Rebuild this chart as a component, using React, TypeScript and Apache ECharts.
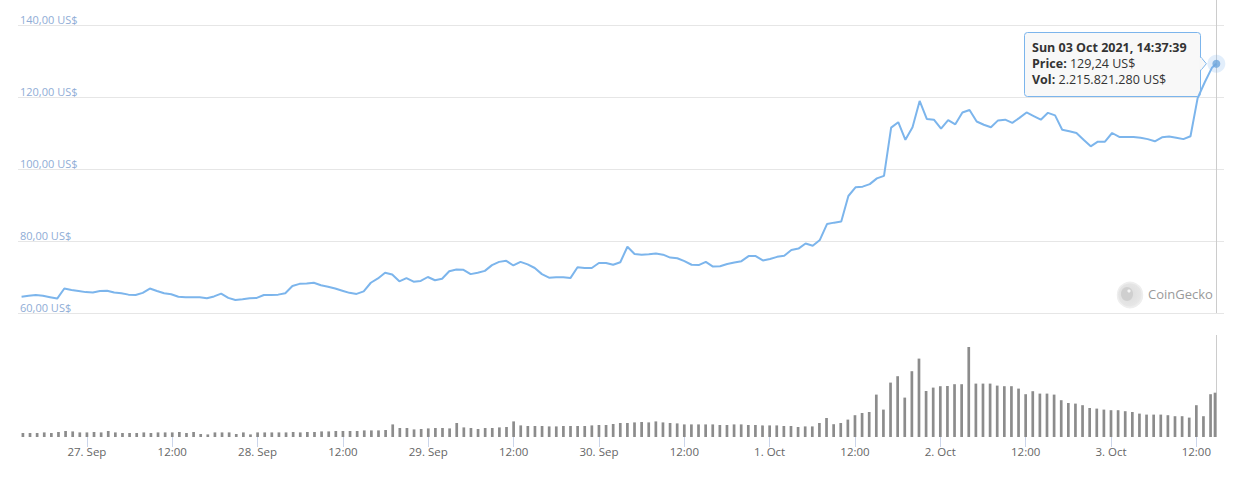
import React, { useEffect, useRef } from 'react';
import * as echarts from 'echarts';

// Hourly samples starting 26 Sep 2021 15:00 (local), the final sample is the live point 3 Oct 2021 14:37:39
const firstSampleTime = new Date(2021, 8, 26, 15, 0, 0).getTime();
const liveSampleTime = new Date(2021, 9, 3, 14, 37, 39).getTime();
const axisStart = new Date(2021, 8, 26, 14, 30, 0).getTime();
const axisEnd = new Date(2021, 9, 3, 15, 42, 0).getTime();

const priceUSD = [
  64.5, 64.8, 65.0, 64.8, 64.4, 64.0, 66.8, 66.4, 66.1, 65.8,
  65.7, 66.1, 66.2, 65.7, 65.5, 65.1, 65.0, 65.6, 66.8, 66.1,
  65.5, 65.2, 64.5, 64.4, 64.4, 64.4, 64.1, 64.6, 65.4, 64.2,
  63.6, 63.8, 64.1, 64.2, 65.0, 65.0, 65.1, 65.5, 67.5, 68.1,
  68.2, 68.4, 67.7, 67.3, 66.8, 66.2, 65.6, 65.3, 66.0, 68.4,
  69.6, 71.2, 70.7, 68.8, 69.7, 68.7, 68.9, 70.0, 69.1, 69.5,
  71.6, 72.1, 72.0, 70.8, 71.2, 71.7, 73.3, 74.2, 74.5, 73.2,
  74.2, 73.5, 72.5, 70.8, 69.8, 69.9, 69.9, 69.7, 72.7, 72.5,
  72.5, 73.9, 73.9, 73.4, 74.1, 78.4, 76.4, 76.2, 76.3, 76.5,
  76.2, 75.4, 75.2, 74.4, 73.4, 73.3, 74.2, 72.9, 73.0, 73.6,
  74.0, 74.4, 75.8, 75.8, 74.6, 75.0, 75.6, 75.9, 77.5, 77.9,
  79.3, 78.7, 80.3, 84.7, 85.1, 85.4, 92.5, 94.9, 95.1, 95.8,
  97.4, 98.1, 111.5, 113.0, 108.1, 111.6, 118.9, 113.9, 113.7, 111.2,
  113.6, 112.4, 115.7, 116.4, 113.2, 112.3, 111.6, 113.5, 113.7, 112.8,
  114.2, 115.7, 114.7, 113.7, 115.6, 114.9, 110.9, 110.5, 110.0, 108.1,
  106.3, 107.6, 107.6, 110.0, 108.9, 108.9, 108.9, 108.7, 108.3, 107.7,
  108.8, 109.0, 108.7, 108.3, 109.1, 119.7, 124.1, 128.1,
  129.24,
];

// Volume in billions of US$
const volumeBn = [
  0.20, 0.20, 0.20, 0.23, 0.20, 0.25, 0.30, 0.28, 0.23, 0.23,
  0.25, 0.23, 0.30, 0.23, 0.20, 0.20, 0.20, 0.23, 0.20, 0.23,
  0.23, 0.23, 0.25, 0.20, 0.25, 0.15, 0.13, 0.23, 0.23, 0.23,
  0.15, 0.23, 0.13, 0.23, 0.23, 0.23, 0.23, 0.23, 0.25, 0.23,
  0.25, 0.25, 0.28, 0.28, 0.30, 0.30, 0.30, 0.30, 0.33, 0.33,
  0.33, 0.35, 0.63, 0.45, 0.45, 0.38, 0.40, 0.43, 0.45, 0.45,
  0.43, 0.70, 0.48, 0.45, 0.40, 0.45, 0.45, 0.48, 0.50, 0.78,
  0.58, 0.55, 0.55, 0.55, 0.53, 0.53, 0.55, 0.55, 0.55, 0.55,
  0.58, 0.60, 0.60, 0.65, 0.70, 0.70, 0.73, 0.75, 0.73, 0.78,
  0.73, 0.70, 0.68, 0.63, 0.63, 0.63, 0.63, 0.63, 0.60, 0.60,
  0.63, 0.63, 0.60, 0.60, 0.58, 0.58, 0.58, 0.55, 0.55, 0.50,
  0.53, 0.53, 0.70, 0.95, 0.64, 0.70, 0.87, 1.09, 1.20, 1.25,
  2.12, 1.37, 2.72, 3.04, 1.97, 3.29, 3.92, 2.30, 2.47, 2.54,
  2.55, 2.64, 2.64, 4.50, 2.67, 2.67, 2.67, 2.57, 2.54, 2.54,
  2.42, 2.14, 2.29, 2.17, 2.17, 2.12, 1.84, 1.70, 1.67, 1.59,
  1.45, 1.42, 1.37, 1.34, 1.34, 1.29, 1.25, 1.17, 1.12, 1.12,
  1.12, 1.09, 1.04, 1.04, 0.97, 1.59, 1.04, 2.14,
  2.21582128,
];

const priceTicks = [60, 80, 100, 120, 140];
const volumeAxisMaxBn = 5;
const monthNames = ['Jan', 'Feb', 'Mar', 'Apr', 'May', 'Jun', 'Jul', 'Aug', 'Sep', 'Oct', 'Nov', 'Dec'];
const dayNames = ['Sun', 'Mon', 'Tue', 'Wed', 'Thu', 'Fri', 'Sat'];

const HOUR = 3600 * 1000;
const sampleTimes = priceUSD.map((_, i) =>
  i < priceUSD.length - 1 ? firstSampleTime + i * HOUR : liveSampleTime
);

const pad2 = (n: number) => (n < 10 ? '0' + n : '' + n);
const fmtPrice = (v: number) => v.toFixed(2).replace('.', ',') + ' US$';
const fmtVolume = (bn: number) =>
  Math.round(bn * 1e9).toString().replace(/\B(?=(\d{3})+(?!\d))/g, '.') + ' US$';
const fmtDate = (t: number) => {
  const d = new Date(t);
  return `${dayNames[d.getDay()]} ${pad2(d.getDate())} ${monthNames[d.getMonth()]} ${d.getFullYear()}, ${pad2(
    d.getHours()
  )}:${pad2(d.getMinutes())}:${pad2(d.getSeconds())}`;
};
const xLabel = (v: number) => {
  const d = new Date(v);
  if (d.getMinutes() !== 0 || d.getSeconds() !== 0) return '';
  if (d.getHours() === 0) return `${d.getDate()}. ${monthNames[d.getMonth()]}`;
  if (d.getHours() === 12) return '12:00';
  return '';
};

const FONT = '"Open Sans", "Segoe UI", sans-serif';
const LINE_BLUE = '#7cb5ec';

export default function App() {
  const ref = useRef<HTMLDivElement>(null);

  useEffect(() => {
    if (!ref.current) return;
    const chart = echarts.init(ref.current, undefined, { renderer: 'svg' });
    const priceData = sampleTimes.map((t, i) => [t, priceUSD[i]]);
    const volData = sampleTimes.map((t, i) => [t, volumeBn[i]]);
    const lastIdx = priceUSD.length - 1;
    const lastPoint = [sampleTimes[lastIdx], priceUSD[lastIdx]];

    chart.setOption({
      animation: false,
      grid: [
        { left: 18, right: 14, top: 25, bottom: 167 },
        { left: 18, right: 14, top: 337, bottom: 43 },
      ],
      xAxis: [
        {
          type: 'time',
          gridIndex: 0,
          min: axisStart,
          max: axisEnd,
          axisLine: { show: false },
          axisTick: { show: false },
          axisLabel: { show: false },
          splitLine: { show: false },
        },
        {
          type: 'time',
          gridIndex: 1,
          min: axisStart,
          max: axisEnd,
          splitNumber: 13,
          minInterval: 13 * HOUR,
          maxInterval: 13 * HOUR,
          axisLine: { show: false },
          axisTick: { show: true, length: 10, lineStyle: { color: '#ccd6eb' } },
          splitLine: { show: false },
          axisLabel: {
            formatter: xLabel,
            color: '#666666',
            fontSize: 11.5,
            fontFamily: FONT,
            margin: 8,
          },
        },
      ],
      yAxis: [
        {
          type: 'value',
          gridIndex: 0,
          min: priceTicks[0],
          max: priceTicks[priceTicks.length - 1],
          interval: priceTicks[1] - priceTicks[0],
          position: 'left',
          axisLine: { show: false },
          axisTick: { show: false },
          splitLine: { show: true, lineStyle: { color: '#e6e6e6', width: 1 } },
          axisLabel: {
            inside: true,
            verticalAlign: 'bottom',
            margin: 2,
            color: '#8fadd6',
            fontSize: 11,
            fontFamily: FONT,
            formatter: (v: number) => fmtPrice(v),
          },
        },
        {
          type: 'value',
          gridIndex: 1,
          min: 0,
          max: volumeAxisMaxBn,
          show: false,
          splitLine: { show: false },
        },
      ],
      series: [
        {
          type: 'bar',
          name: 'Vol',
          xAxisIndex: 1,
          yAxisIndex: 1,
          data: volData,
          barWidth: 2.7,
          itemStyle: { color: '#8c8c8c' },
        },
        {
          type: 'line',
          name: 'Price',
          xAxisIndex: 0,
          yAxisIndex: 0,
          data: priceData,
          showSymbol: false,
          symbol: 'none',
          lineStyle: { color: LINE_BLUE, width: 2 },
          z: 3,
        },
        {
          type: 'scatter',
          xAxisIndex: 0,
          yAxisIndex: 0,
          data: [lastPoint],
          symbolSize: 18,
          itemStyle: { color: 'rgba(124,181,236,0.28)' },
          z: 4,
        },
        {
          type: 'scatter',
          xAxisIndex: 0,
          yAxisIndex: 0,
          data: [lastPoint],
          symbolSize: 8,
          itemStyle: { color: '#6fa6dc' },
          z: 5,
        },
      ],
    });

    const [px, py] = chart.convertToPixel({ gridIndex: 0 }, lastPoint) as number[];
    const [, pBottom] = chart.convertToPixel({ gridIndex: 0 }, [lastPoint[0], priceTicks[0]]) as number[];
    const [gRight] = chart.convertToPixel({ gridIndex: 0 }, [axisEnd, priceTicks[0]]) as number[];
    const [, vTop] = chart.convertToPixel({ gridIndex: 1 }, [lastPoint[0], volumeAxisMaxBn]) as number[];
    const [, vBottom] = chart.convertToPixel({ gridIndex: 1 }, [lastPoint[0], 0]) as number[];
    const cx = Math.round(px) + 0.5;

    const boxW = 176;
    const boxH = 64;
    const boxR = Math.round(px - 16);
    const boxL = boxR - boxW;
    const boxT = Math.round(py - boxH / 2);

    chart.setOption({
      graphic: [
        {
          type: 'line',
          shape: { x1: cx, y1: 0, x2: cx, y2: pBottom },
          style: { stroke: '#cccccc', lineWidth: 1 },
          z: 1,
        },
        {
          type: 'line',
          shape: { x1: cx, y1: vTop - 2, x2: cx, y2: vBottom },
          style: { stroke: '#cccccc', lineWidth: 1 },
          z: 1,
        },
        // CoinGecko watermark
        {
          type: 'circle',
          shape: { cx: gRight - 94, cy: pBottom - 18, r: 12.5 },
          style: {
            fill: new echarts.graphic.RadialGradient(0.45, 0.45, 0.6, [
              { offset: 0, color: '#dcdcdc' },
              { offset: 0.8, color: '#e6e6e6' },
              { offset: 1, color: '#f2f2f2' },
            ]),
            stroke: '#eeeeee',
            lineWidth: 1.5,
          },
          z: 1,
        },
        {
          type: 'ellipse',
          shape: { cx: gRight - 97, cy: pBottom - 19, rx: 6, ry: 7 },
          style: { fill: '#cfcfcf' },
          z: 1,
        },
        {
          type: 'circle',
          shape: { cx: gRight - 95, cy: pBottom - 22, r: 1.6 },
          style: { fill: '#f5f5f5' },
          z: 1,
        },
        {
          type: 'text',
          x: gRight - 76,
          y: pBottom - 19,
          style: {
            text: 'CoinGecko',
            fill: '#9a9a9a',
            fontSize: 13,
            fontFamily: FONT,
            verticalAlign: 'middle',
            align: 'left',
          },
          z: 1,
        },
        // Tooltip
        {
          type: 'group',
          z: 100,
          children: [
            {
              type: 'rect',
              shape: { x: boxL + 0.5, y: boxT + 0.5, width: boxW, height: boxH, r: 3 },
              style: { fill: 'rgba(247,247,247,0.92)', stroke: LINE_BLUE, lineWidth: 1 },
            },
            {
              type: 'polygon',
              shape: {
                points: [
                  [boxR + 0.5, py - 7],
                  [px - 10, py],
                  [boxR + 0.5, py + 7],
                ],
              },
              style: { fill: 'rgba(247,247,247,0.92)', stroke: LINE_BLUE, lineWidth: 1 },
            },
            {
              type: 'rect',
              shape: { x: boxR - 1, y: py - 6, width: 2.5, height: 12 },
              style: { fill: '#f7f7f7' },
            },
            {
              type: 'text',
              x: boxL + 8,
              y: boxT + 15,
              style: {
                text: fmtDate(lastPoint[0]),
                fill: '#333333',
                fontSize: 12.5,
                fontWeight: 'bold',
                fontFamily: FONT,
                verticalAlign: 'middle',
              },
            },
            {
              type: 'text',
              x: boxL + 8,
              y: boxT + 31,
              style: {
                text: '{b|Price:} ' + fmtPrice(priceUSD[lastIdx]),
                fill: '#333333',
                fontSize: 12.5,
                fontFamily: FONT,
                verticalAlign: 'middle',
                rich: { b: { fontWeight: 'bold', fontSize: 12.5, fontFamily: FONT, fill: '#333333' } },
              },
            },
            {
              type: 'text',
              x: boxL + 8,
              y: boxT + 47,
              style: {
                text: '{b|Vol:} ' + fmtVolume(volumeBn[lastIdx]),
                fill: '#333333',
                fontSize: 12.5,
                fontFamily: FONT,
                verticalAlign: 'middle',
                rich: { b: { fontWeight: 'bold', fontSize: 12.5, fontFamily: FONT, fill: '#333333' } },
              },
            },
          ],
        },
      ],
    });

    return () => chart.dispose();
  }, []);

  return (
    <div
      ref={ref}
      style={{ position: 'absolute', left: 0, top: 0, width: 1238, height: 480, background: '#ffffff' }}
    />
  );
}
